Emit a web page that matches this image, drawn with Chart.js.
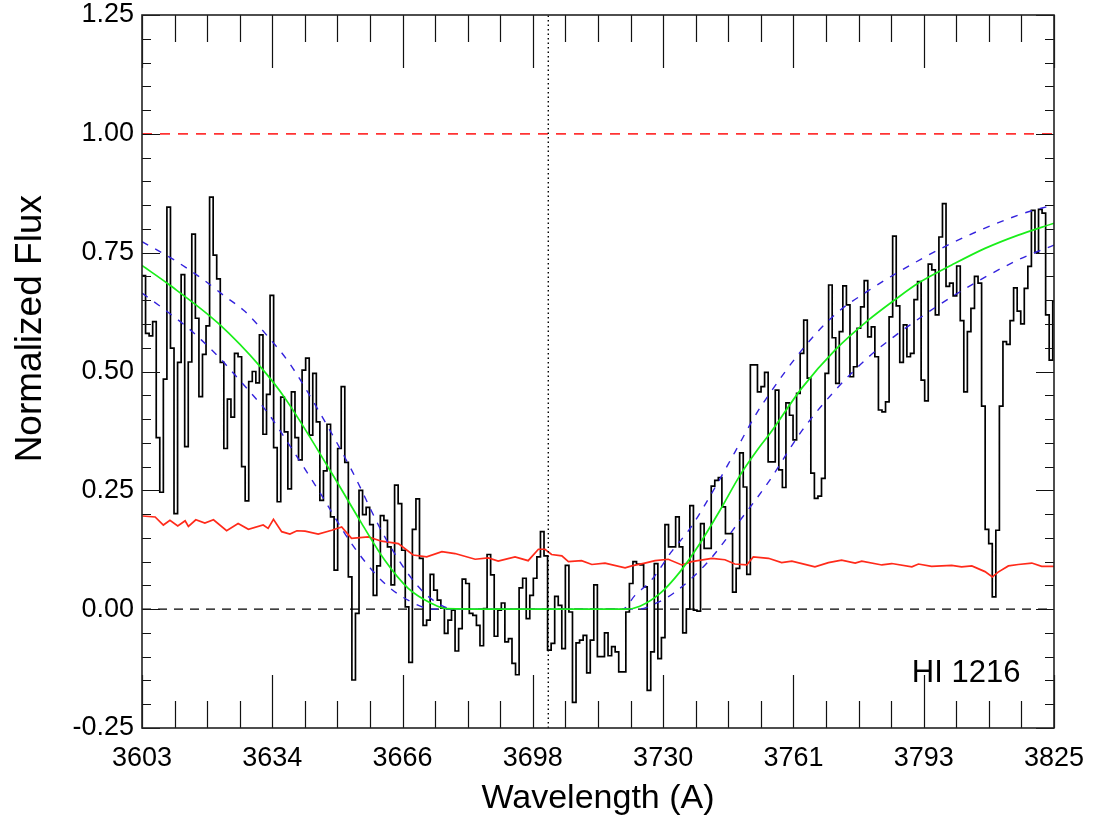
<!DOCTYPE html>
<html>
<head>
<meta charset="utf-8">
<script src="https://cdn.jsdelivr.net/npm/chart.js@4"></script>
<style>
  html, body { margin: 0; padding: 0; background: #fff; }
</style>
</head>
<body>
<canvas id="chart" width="1093" height="823"></canvas>
<script>
// axis ranges and tick labels
const waveMin = 3603, waveMax = 3825;
const xTickLabels = ["3603", "3634", "3666", "3698", "3730", "3761", "3793", "3825"];
const yTickLabels = ["-0.25", "0.00", "0.25", "0.50", "0.75", "1.00", "1.25"];

// observed spectrum (histogram bins, left edges start at binStart)
const binStart = 3603, binWidth = 0.866;
const flux = [
    0.702, 0.580, 0.575, 0.605, 0.361, 0.246, 0.484, 0.846, 0.549, 0.201,
    0.519, 0.704, 0.342, 0.520, 0.789, 0.612, 0.447, 0.536, 0.596, 0.867,
    0.745, 0.695, 0.519, 0.338, 0.442, 0.404, 0.538, 0.531, 0.300, 0.228,
    0.479, 0.500, 0.476, 0.577, 0.368, 0.452, 0.660, 0.340, 0.226, 0.446,
    0.373, 0.253, 0.457, 0.361, 0.314, 0.503, 0.528, 0.366, 0.496, 0.394,
    0.229, 0.291, 0.389, 0.194, 0.082, 0.338, 0.468, 0.309, 0.068, -0.149,
    -0.009, 0.250, 0.199, 0.214, 0.178, 0.029, 0.091, 0.197, 0.187, 0.131,
    0.051, 0.261, 0.222, 0.124, 0.005, -0.112, 0.168, 0.232, 0.107, -0.034,
    -0.023, 0.073, 0.040, 0.019, 0.002, -0.051, -0.023, -0.002, -0.088, -0.041,
    0.063, 0.054, -0.009, -0.013, -0.034, -0.077, 0.001, 0.115, 0.072, -0.057,
    -0.002, 0.013, -0.069, -0.062, -0.114, -0.138, 0.045, 0.065, -0.020, 0.029,
    0.065, 0.110, 0.163, 0.112, -0.086, -0.072, 0.027, 0.008, -0.083, 0.092,
    -0.006, -0.196, -0.071, -0.065, -0.055, -0.134, -0.065, 0.051, -0.100, -0.100,
    -0.050, -0.098, -0.079, -0.090, -0.132, -0.132, -0.006, 0.054, 0.100, 0.095,
    0.093, 0.047, -0.171, -0.090, 0.096, -0.104, -0.060, 0.178, 0.131, 0.131,
    0.194, 0.131, -0.050, 0.000, 0.218, -0.002, -0.004, 0.180, 0.128, 0.128,
    0.259, 0.271, 0.277, 0.215, 0.159, 0.159, 0.036, 0.086, 0.329, 0.257,
    0.073, 0.514, 0.514, 0.457, 0.468, 0.498, 0.310, 0.310, 0.461, 0.293,
    0.256, 0.434, 0.408, 0.356, 0.454, 0.538, 0.608, 0.486, 0.286, 0.233,
    0.238, 0.275, 0.496, 0.682, 0.571, 0.475, 0.584, 0.680, 0.640, 0.489,
    0.510, 0.591, 0.636, 0.691, 0.573, 0.594, 0.531, 0.419, 0.415, 0.436,
    0.615, 0.785, 0.638, 0.519, 0.598, 0.531, 0.538, 0.651, 0.689, 0.482,
    0.438, 0.726, 0.714, 0.619, 0.783, 0.853, 0.679, 0.686, 0.659, 0.722,
    0.607, 0.457, 0.584, 0.633, 0.700, 0.686, 0.427, 0.168, 0.138, 0.026,
    0.166, 0.427, 0.563, 0.557, 0.607, 0.676, 0.627, 0.600, 0.675, 0.721,
    0.839, 0.750, 0.841, 0.833, 0.619, 0.524, 0.647
];

// best fit absorption model (green)
const modelWave = [3603, 3609.4, 3621.6, 3632.1, 3637.8, 3649.2, 3656.5, 3662.1, 3667.8, 3673.5, 3677,
    3690, 3710, 3721, 3724.2, 3729.1, 3734, 3738.8, 3743.7, 3748.6, 3753.4, 3755.9, 3763.6,
    3771.7, 3779.8, 3786.3, 3792, 3800.1, 3808.2, 3816.3, 3825];
const modelFlux = [0.723, 0.684, 0.601, 0.507, 0.444, 0.286, 0.180, 0.103, 0.044, 0.012, 0.001,
    0, 0, 0, 0.006, 0.033, 0.079, 0.138, 0.208, 0.282, 0.342, 0.370, 0.465,
    0.545, 0.608, 0.651, 0.686, 0.724, 0.759, 0.787, 0.812];

// error bounds of the model (blue dashed)
const upperWave = [3603, 3610.2, 3617.5, 3623.2, 3628.1, 3633.7, 3638.6, 3645.9, 3654, 3662.1, 3670.3, 3676.8, 3680,
    3720, 3723, 3727, 3731.9, 3736.6, 3741.7, 3747.3, 3752.6, 3755.5, 3763.6, 3771.7, 3779.8, 3786.3, 3800.1, 3816.3, 3825];
const upperFlux = [0.773, 0.738, 0.696, 0.658, 0.626, 0.573, 0.521, 0.419, 0.293, 0.152, 0.047, 0.004, 0,
    0, 0.029, 0.061, 0.121, 0.172, 0.244, 0.330, 0.412, 0.450, 0.545, 0.620, 0.670, 0.705, 0.770, 0.829, 0.851];
const lowerWave = [3603, 3607, 3610.2, 3614.3, 3617.5, 3622.4, 3625.6, 3628.9, 3633.7, 3638.6, 3645.9, 3654, 3662.1, 3670.3, 3674,
    3724, 3728, 3732.3, 3740.4, 3748.6, 3755.7, 3763.6, 3771.7, 3779.8, 3786.3, 3800.1, 3816.3, 3825];
const lowerFlux = [0.665, 0.640, 0.619, 0.591, 0.566, 0.524, 0.493, 0.461, 0.412, 0.349, 0.251, 0.138, 0.054, 0.008, 0,
    0, 0.012, 0.033, 0.096, 0.187, 0.270, 0.375, 0.460, 0.530, 0.575, 0.657, 0.735, 0.766];

// error spectrum (red)
const errWave = [3603.1, 3606.2, 3608.2, 3609.8, 3611.7, 3613.5, 3614.3, 3616.1, 3618.3, 3620.4, 3623.6, 3626.4,
    3628.9, 3632.5, 3633.7, 3635, 3637, 3639, 3640.7, 3642.7, 3645.9, 3649.2, 3651.6, 3654, 3658.1, 3661.3,
    3665.4, 3669, 3672.3, 3676, 3679.2, 3684.1, 3687.3, 3689.7, 3693.8, 3697, 3699.5, 3701.1, 3702.7, 3705.2,
    3706.8, 3710, 3712.5, 3715.7, 3720.6, 3722.2, 3725.4, 3727.9, 3731.1, 3734.4, 3736.8, 3741.7, 3744.9,
    3747.3, 3750.2, 3751.8, 3755.5, 3758.7, 3761.2, 3766.8, 3770.1, 3773.3, 3776.6, 3778.2, 3783.1, 3785.5,
    3790.4, 3792, 3795.2, 3800.1, 3802.5, 3805, 3808.2, 3810, 3811.4, 3813.9, 3816.3, 3819.6, 3822, 3825];
const errFlux = [0.196, 0.194, 0.177, 0.187, 0.175, 0.186, 0.174, 0.188, 0.181, 0.188, 0.165, 0.180,
    0.168, 0.177, 0.170, 0.189, 0.163, 0.158, 0.165, 0.164, 0.158, 0.166, 0.173, 0.149, 0.152, 0.143,
    0.138, 0.114, 0.110, 0.121, 0.117, 0.105, 0.108, 0.101, 0.110, 0.102, 0.126, 0.126, 0.115, 0.112,
    0.100, 0.102, 0.094, 0.097, 0.087, 0.091, 0.097, 0.102, 0.105, 0.093, 0.100, 0.107, 0.104,
    0.095, 0.093, 0.110, 0.107, 0.098, 0.101, 0.089, 0.098, 0.103, 0.097, 0.101, 0.093, 0.096,
    0.089, 0.095, 0.090, 0.092, 0.089, 0.091, 0.079, 0.068, 0.078, 0.091, 0.094, 0.097, 0.090, 0.090];

const continuumLevel = 1.0;
const zeroLevel = 0.0;
const lineCenter = 3701.9;
const lineLabel = "HI 1216";

const FONT = "'Liberation Sans', Arial, Helvetica, sans-serif";
Chart.defaults.font.family = FONT;

const xTickVals = xTickLabels.map((_, i) => waveMin + i * (waveMax - waveMin) / (xTickLabels.length - 1));
const yTickVals = yTickLabels.map(Number);

const toPoints = (xs, ys) => xs.map((x, i) => ({ x: x, y: ys[i] }));
const binPoints = flux.map((f, i) => ({ x: binStart + i * binWidth, y: f }));
binPoints.push({ x: binStart + flux.length * binWidth, y: flux[flux.length - 1] });

// inward ticks on all four sides, frame and texts
const frameTicks = {
    id: "frameTicks",
    afterDraw(chart) {
        const { ctx, chartArea: a } = chart;
        const xs = chart.scales.x, ys = chart.scales.y;
        ctx.save();
        ctx.strokeStyle = "#111";
        ctx.lineWidth = 1.2;
        ctx.beginPath();
        const xStep = (waveMax - waveMin) / (xTickLabels.length - 1) / 4;
        for (let i = 0; i <= (xTickLabels.length - 1) * 4; i++) {
            const px = Math.round(xs.getPixelForValue(waveMin + i * xStep)) + 0.5;
            const len = i % 4 === 0 ? 53 : 27;
            ctx.moveTo(px, a.bottom); ctx.lineTo(px, a.bottom - len);
            ctx.moveTo(px, a.top); ctx.lineTo(px, a.top + len);
        }
        const yMin = yTickVals[0], yMax = yTickVals[yTickVals.length - 1];
        const nMinor = Math.round((yMax - yMin) / 0.05);
        for (let i = 0; i <= nMinor; i++) {
            const py = Math.round(ys.getPixelForValue(yMin + i * 0.05)) + 0.5;
            const len = i % 5 === 0 ? 18 : 9;
            ctx.moveTo(a.left, py); ctx.lineTo(a.left + len, py);
            ctx.moveTo(a.right, py); ctx.lineTo(a.right - len, py);
        }
        ctx.stroke();
        ctx.lineWidth = 1.6;
        ctx.strokeStyle = "#222";
        ctx.strokeRect(a.left, a.top, a.right - a.left, a.bottom - a.top);

        ctx.fillStyle = "#000";
        ctx.font = "34px " + FONT;
        ctx.textAlign = "center";
        ctx.textBaseline = "alphabetic";
        ctx.fillText("Wavelength (A)", (a.left + a.right) / 2, a.bottom + 80);

        ctx.save();
        ctx.font = "37px " + FONT;
        ctx.translate(a.left - 101, ys.getPixelForValue(0.59));
        ctx.rotate(-Math.PI / 2);
        ctx.fillText("Normalized Flux", 0, 0);
        ctx.restore();

        ctx.font = "31px " + FONT;
        ctx.textAlign = "left";
        ctx.fillText(lineLabel, xs.getPixelForValue(3790.4), ys.getPixelForValue(-0.154));
        ctx.restore();
    }
};

new Chart(document.getElementById("chart"), {
    type: "line",
    data: {
        datasets: [
            {
                label: "dotted",
                data: [{ x: lineCenter, y: yTickVals[0] }, { x: lineCenter, y: yTickVals[yTickVals.length - 1] }],
                borderColor: "#000", borderWidth: 1.4, borderDash: [1.5, 3], order: 0,
            },
            {
                label: "model",
                data: toPoints(modelWave, modelFlux),
                borderColor: "#19ee19", borderWidth: 1.7, cubicInterpolationMode: "monotone", order: 1,
            },
            {
                label: "upper",
                data: toPoints(upperWave, upperFlux),
                borderColor: "#3322dd", borderWidth: 1.4, borderDash: [7, 8], cubicInterpolationMode: "monotone", order: 2,
            },
            {
                label: "lower",
                data: toPoints(lowerWave, lowerFlux),
                borderColor: "#3322dd", borderWidth: 1.4, borderDash: [7, 8], cubicInterpolationMode: "monotone", order: 2,
            },
            {
                label: "error",
                data: toPoints(errWave, errFlux),
                borderColor: "#ff2a1a", borderWidth: 1.7, order: 3,
            },
            {
                label: "flux",
                data: binPoints,
                borderColor: "#000", borderWidth: 1.7, stepped: "before", order: 4,
            },
            {
                label: "continuum",
                data: [{ x: waveMin, y: continuumLevel }, { x: waveMax, y: continuumLevel }],
                borderColor: "#ff3333", borderWidth: 1.6, borderDash: [10, 8], order: 5,
            },
            {
                label: "zero",
                data: [{ x: waveMin, y: zeroLevel }, { x: waveMax, y: zeroLevel }],
                borderColor: "#000", borderWidth: 1.4, borderDash: [9, 7], order: 5,
            },
        ],
    },
    options: {
        responsive: false,
        animation: false,
        events: [],
        layout: { padding: { left: 0, top: 15, right: 39, bottom: 0 } },
        elements: { point: { radius: 0 }, line: { tension: 0, fill: false } },
        plugins: { legend: { display: false }, tooltip: { enabled: false } },
        scales: {
            x: {
                type: "linear",
                min: waveMin,
                max: waveMax,
                afterBuildTicks: (s) => { s.ticks = xTickVals.map((v) => ({ value: v })); },
                afterFit: (s) => { s.height = 95; s.paddingLeft = 0; s.paddingRight = 0; },
                ticks: {
                    callback: (v, i) => xTickLabels[i],
                    autoSkip: false, maxRotation: 0, minRotation: 0,
                    padding: 14, color: "#000", font: { size: 27 },
                },
                grid: { display: false, drawTicks: false },
                border: { display: false },
            },
            y: {
                type: "linear",
                min: yTickVals[0],
                max: yTickVals[yTickVals.length - 1],
                afterBuildTicks: (s) => { s.ticks = yTickVals.map((v) => ({ value: v })); },
                afterFit: (s) => { s.width = 142; s.paddingTop = 0; s.paddingBottom = 0; },
                ticks: {
                    callback: (v, i) => yTickLabels[i],
                    autoSkip: false, padding: 8, color: "#000", font: { size: 27 },
                },
                grid: { display: false, drawTicks: false },
                border: { display: false },
            },
        },
    },
    plugins: [frameTicks],
});
</script>
</body>
</html>
